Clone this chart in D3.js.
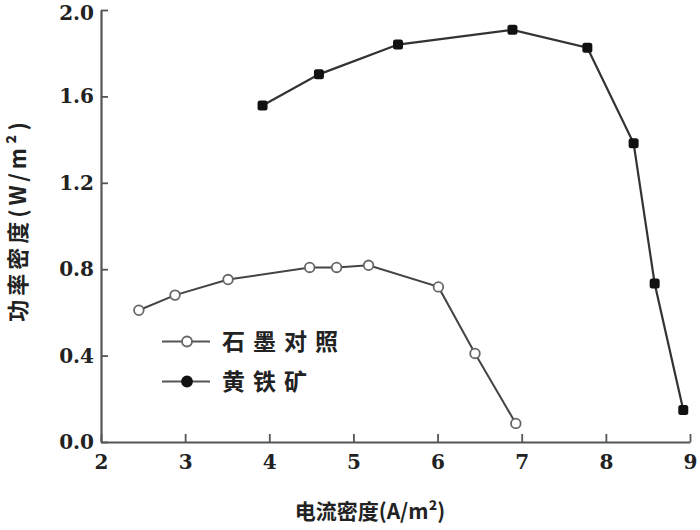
<!DOCTYPE html>
<html>
<head>
<meta charset="utf-8">
<script src="https://cdn.jsdelivr.net/npm/d3@7"></script>
<style>
  body { margin: 0; background: #fff; }
  svg { display: block; }
</style>
</head>
<body>
<div id="chart"></div>
<script>
// data
const seriesNames = ["石墨对照", "黄铁矿"];

const graphiteX = [2.45, 2.88, 3.51, 4.48, 4.80, 5.18, 6.01, 6.445, 6.93];
const graphiteY = [0.61, 0.68, 0.752, 0.808, 0.808, 0.818, 0.718, 0.41, 0.086];

const pyriteX = [3.92, 4.59, 5.53, 6.89, 7.78, 8.33, 8.58, 8.92];
const pyriteY = [1.558, 1.702, 1.84, 1.908, 1.825, 1.383, 0.734, 0.148];

const xTicks = [2, 3, 4, 5, 6, 7, 8, 9];
const yTicks = [0, 0.4, 0.8, 1.2, 1.6, 2.0];

const xTitle = "电流密度(A/m²)";
const yTitle = "功率密度(W/m²)";

const width = 700, height = 530;
const margin = {top: 10, right: 10, bottom: 88, left: 101};

const svg = d3.select("#chart").append("svg")
  .attr("width", width)
  .attr("height", height);

const x = d3.scaleLinear().domain([2, 9]).range([margin.left, 690]);
const y = d3.scaleLinear().domain([0, 2]).range([442, margin.top]);

const tickFont = "DejaVu Serif, serif";
const cjkFont = "Noto Sans CJK SC, Noto Sans, sans-serif";

// axes, ticks pointing inward
const xAxis = svg.append("g")
  .attr("transform", `translate(0,${y(0)})`)
  .call(d3.axisBottom(x).tickValues(xTicks).tickSize(-8).tickSizeOuter(0).tickPadding(13).tickFormat(d3.format("d")));

const yAxis = svg.append("g")
  .attr("transform", `translate(${x(2)},0)`)
  .call(d3.axisLeft(y).tickValues(yTicks).tickSize(-7).tickSizeOuter(0).tickPadding(7).tickFormat(d3.format(".1f")));

[xAxis, yAxis].forEach(ax => {
  ax.attr("font-family", tickFont)
    .attr("font-size", 20)
    .attr("font-weight", "bold");
  ax.select(".domain").attr("stroke", "#555").attr("stroke-width", 2.2);
  ax.selectAll(".tick line").attr("stroke", "#555").attr("stroke-width", 1.8);
  ax.selectAll(".tick text").attr("fill", "#222");
});

// keep the top label inside the frame
yAxis.selectAll(".tick text").filter(d => d === 2).attr("dy", "0.45em");

// axis titles
svg.append("text")
  .attr("x", 370)
  .attr("y", 519)
  .attr("text-anchor", "middle")
  .attr("fill", "#222")
  .attr("font-family", cjkFont)
  .attr("font-weight", "bold")
  .attr("font-size", 21)
  .text(xTitle);

svg.append("text")
  .attr("transform", "translate(26,220) rotate(-90)")
  .attr("text-anchor", "middle")
  .attr("fill", "#222")
  .attr("font-family", cjkFont)
  .attr("font-weight", "bold")
  .attr("font-size", 22)
  .attr("letter-spacing", 4)
  .text(yTitle);

const line = d3.line().x(d => x(d[0])).y(d => y(d[1]));

const graphite = graphiteX.map((v, i) => [v, graphiteY[i]]);
const pyrite = pyriteX.map((v, i) => [v, pyriteY[i]]);

// lines
svg.append("path")
  .datum(graphite)
  .attr("fill", "none")
  .attr("stroke", "#444")
  .attr("stroke-width", 2)
  .attr("d", line);

svg.append("path")
  .datum(pyrite)
  .attr("fill", "none")
  .attr("stroke", "#333")
  .attr("stroke-width", 2.2)
  .attr("d", line);

// markers
svg.selectAll(".open")
  .data(graphite)
  .enter().append("circle")
  .attr("class", "open")
  .attr("cx", d => x(d[0]))
  .attr("cy", d => y(d[1]))
  .attr("r", 4.8)
  .attr("fill", "#fff")
  .attr("stroke", "#666")
  .attr("stroke-width", 1.8);

svg.selectAll(".filled")
  .data(pyrite)
  .enter().append("rect")
  .attr("class", "filled")
  .attr("x", d => x(d[0]) - 5)
  .attr("y", d => y(d[1]) - 5)
  .attr("width", 10)
  .attr("height", 10)
  .attr("rx", 2.5)
  .attr("fill", "#111");

// legend
const legend = svg.append("g").attr("class", "legend");
const legendRows = legend.selectAll(".row")
  .data(seriesNames)
  .enter().append("g")
  .attr("class", "row")
  .attr("transform", (d, i) => `translate(0,${341.5 + i * 40})`);

legendRows.append("line")
  .attr("x1", 162).attr("x2", 210)
  .attr("stroke", "#555")
  .attr("stroke-width", 2);

legendRows.append("circle")
  .attr("cx", 187)
  .attr("r", 5)
  .attr("fill", (d, i) => i === 0 ? "#fff" : "#111")
  .attr("stroke", (d, i) => i === 0 ? "#666" : "#111")
  .attr("stroke-width", 1.8);

legendRows.append("text")
  .attr("x", 222)
  .attr("dy", "0.36em")
  .attr("fill", "#222")
  .attr("font-family", cjkFont)
  .attr("font-weight", "bold")
  .attr("font-size", 23)
  .attr("letter-spacing", 8)
  .text(d => d);
</script>
</body>
</html>
